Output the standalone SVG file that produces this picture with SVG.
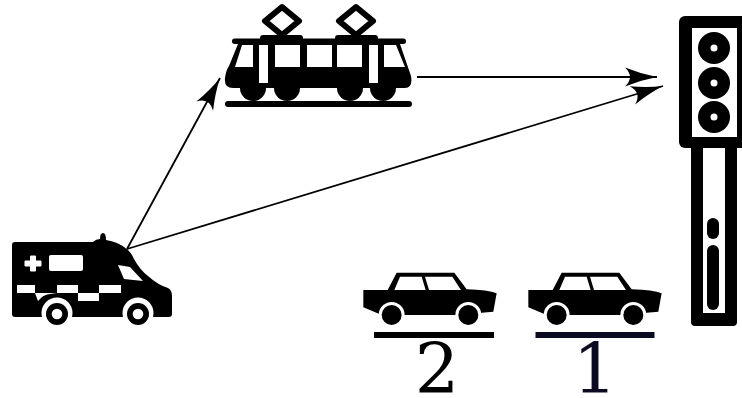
<svg xmlns="http://www.w3.org/2000/svg" width="742" height="398" viewBox="0 0 742 398">
<style>
.k{fill:#000}.w{fill:#fff}
.c{fill:none;stroke:#000;stroke-width:1.8}
.d{font-family:"DejaVu Serif",serif;font-size:70px;text-anchor:middle}
</style>
<defs>
<marker id="a" markerUnits="userSpaceOnUse" markerWidth="40" markerHeight="24" refX="34" refY="12" orient="auto" overflow="visible">
<path d="M34,12 Q18,9 2,2.500 Q12,12 2,21.500 Q18,15 34,12 Z" fill="#000"/>
</marker>
<g id="car">
<path class="k" d="M25,90H98L125,38H298L335,88Q400,90 425,100L415,155L380,158L370,165H80L25,142Z"/>
<path class="w" d="M118,90L135,50H200L212,90ZM222,90L210,50H292L318,90Z"/>
<circle class="w" cx="110" cy="165" r="39"/><circle class="w" cx="340" cy="165" r="39"/>
<rect class="w" x="60" y="167" width="330" height="40"/>
<circle class="k" cx="110" cy="165" r="30"/><circle class="k" cx="340" cy="165" r="30"/>
</g>
</defs>
<rect class="w" width="742" height="398"/>
<g id="connectors">
<path class="c" d="M127,249L220,78" marker-end="url(#a)"/>
<path class="c" d="M127,249L663,86" marker-end="url(#a)"/>
<path class="c" d="M417,77L657,77" marker-end="url(#a)"/>
</g>
<g id="ambulance">
<path class="k" d="M15,242H93Q96,239 100,239Q100,233 103,233Q106,233 106,240Q112,241 117,243Q124,246 128,250Q132,254 134,259Q140,270 148,276Q158,285 168,288Q172,290 172,296V314Q172,317 169,317H15Q12,317 12,314V245Q12,242 15,242Z"/>
<path class="w" d="M118,265L130,267L143,281L124,279Z"/>
<rect class="w" x="49" y="255" width="34" height="16" rx="2"/>
<path class="w" d="M30.500,256h5v5h5.500v5h-5.500v5h-5v-5h-5.500v-5h5.500z" stroke="#fff" stroke-width="1" stroke-linejoin="round"/>
<path class="w" d="M17,285H35V293H57Q45,294 42,297L38,301L35,293H17ZM57,285H78V293H99V285H121V293H99V301H78V293H57Z"/>
<circle class="w" cx="57" cy="313" r="15.500"/><circle class="w" cx="138" cy="313" r="15.500"/>
<rect class="w" x="30" y="317.500" width="140" height="10"/>
<circle class="k" cx="57" cy="314" r="11"/><circle class="k" cx="138" cy="314" r="11"/>
<circle class="w" cx="57" cy="314" r="5.300"/><circle class="w" cx="138" cy="314" r="5.300"/>
</g>
<g id="tram">
<path d="M282,7L299,21L282,35L265,21ZM356,7L373,21L356,35L339,21Z" fill="none" stroke="#000" stroke-width="6" stroke-linejoin="round"/>
<rect class="k" x="260" y="35" width="43" height="8" rx="3"/>
<rect class="k" x="335" y="35" width="43" height="8" rx="3"/>
<rect class="k" x="232" y="38.500" width="174" height="5.500" rx="2.700"/>
<path class="k" d="M238,44H400L411,76Q413,88 405,88H233Q224,88 225,78Q226,70 229,66Z"/>
<circle class="k" cx="253" cy="88" r="13"/><circle class="k" cx="287" cy="88" r="13"/>
<circle class="k" cx="350" cy="88" r="13"/><circle class="k" cx="383" cy="88" r="13"/>
<path class="w" d="M242,45H253V67H235ZM259,45H268V83H259ZM275,45H300V67H275ZM307,45H332V67H307ZM337,45H362V67H337ZM369,45H378V83H369ZM384,45H396L405,67H384Z"/>
<rect class="k" x="225" y="101" width="187" height="6" rx="3"/>
</g>
<g id="signal">
<rect class="k" x="679" y="16" width="80" height="132" rx="6"/>
<rect class="w" x="692" y="28" width="45" height="109"/>
<circle class="k" cx="714" cy="48" r="16"/><circle class="k" cx="714" cy="83" r="16"/><circle class="k" cx="714" cy="117" r="16"/>
<circle class="w" cx="714" cy="48" r="3.500"/><circle class="w" cx="714" cy="83" r="3.500"/><circle class="w" cx="714" cy="117" r="3.500"/>
<path class="k" d="M691,148H703V313H725V148H737V322Q737,326 733,326H695Q691,326 691,322Z"/>
<rect class="k" x="707" y="218" width="12" height="21" rx="6"/>
<rect class="k" x="707" y="245" width="12" height="65" rx="6"/>
</g>
<g id="car2">
<use href="#car" transform="translate(355,260) scale(0.3333)"/>
<rect class="k" x="374" y="332" width="120" height="6"/>
<text class="d" x="437" y="393">2</text>
</g>
<g id="car1">
<use href="#car" transform="translate(520,260) scale(0.3333)"/>
<rect x="535.500" y="332" width="119" height="6" fill="#0a0a20"/>
<text class="d" x="595" y="393" fill="#0a0a20">1</text>
</g>
</svg>
